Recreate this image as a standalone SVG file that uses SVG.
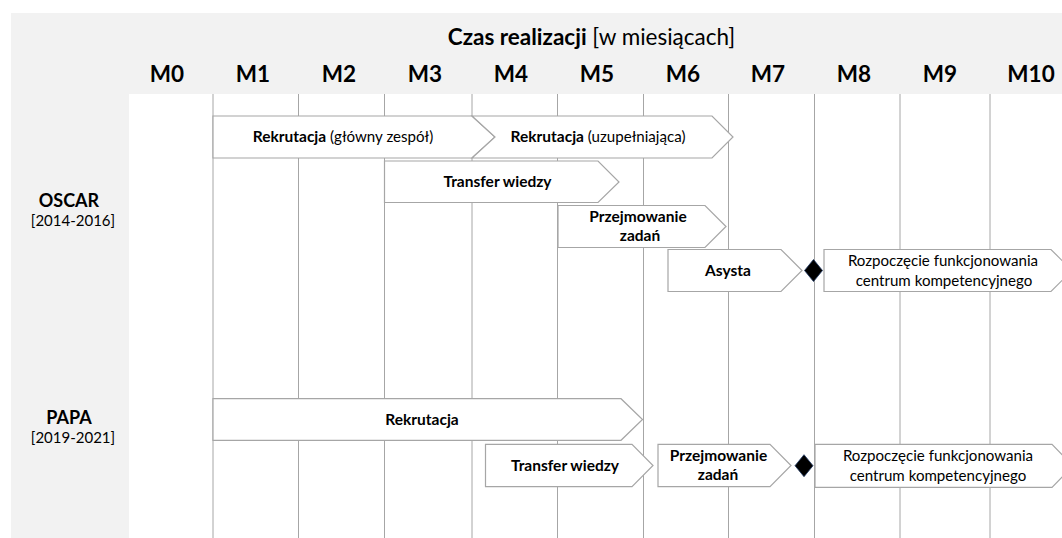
<svg xmlns="http://www.w3.org/2000/svg" width="1062" height="538" viewBox="0 0 1062 538">
<style>
text{font-family:Lato,"Liberation Sans",Arial,sans-serif;fill:#000}
.t{font-size:22.5px}
.m{font-size:22.5px;font-weight:bold;text-anchor:middle}
.p{font-size:18px;font-weight:bold;text-anchor:middle}
.y{font-size:15px;text-anchor:middle}
.b{font-size:15.1px;text-anchor:middle}
.bb{font-weight:bold;font-size:15.5px}
.grid line{stroke:#a6a6a6;stroke-width:1}
.box{fill:#fff;stroke:#a6a6a6;stroke-width:1.2}
.ms{fill:#000;stroke:#1f3864;stroke-width:0.8}
</style>
<rect width="1062" height="538" fill="#fff"/>
<path d="M11 13H1062V94H129V538H11Z" fill="#f2f2f2"/>
<g id="header">
<text class="t" x="591.5" y="45" text-anchor="middle"><tspan font-weight="bold">Czas realizacji</tspan> [w miesiącach]</text>
<text class="m" x="167" y="82">M0</text>
<text class="m" x="253" y="82">M1</text>
<text class="m" x="339" y="82">M2</text>
<text class="m" x="425" y="82">M3</text>
<text class="m" x="511" y="82">M4</text>
<text class="m" x="597" y="82">M5</text>
<text class="m" x="683" y="82">M6</text>
<text class="m" x="768" y="82">M7</text>
<text class="m" x="854" y="82">M8</text>
<text class="m" x="940" y="82">M9</text>
<text class="m" x="1031" y="82">M10</text>
</g>
<g id="labels">
<text class="p" x="69" y="207">OSCAR</text>
<text class="y" x="73" y="226">[2014-2016]</text>
<text class="p" x="69" y="424">PAPA</text>
<text class="y" x="73" y="443">[2019-2021]</text>
</g>
<g id="connectors" class="grid">
<line x1="213" y1="94" x2="213" y2="538"/>
<line x1="298.5" y1="94" x2="298.5" y2="538"/>
<line x1="384.5" y1="94" x2="384.5" y2="538"/>
<line x1="472" y1="94" x2="472" y2="538"/>
<line x1="557.5" y1="94" x2="557.5" y2="538"/>
<line x1="643.5" y1="94" x2="643.5" y2="538"/>
<line x1="728.5" y1="94" x2="728.5" y2="538"/>
<line x1="814.5" y1="94" x2="814.5" y2="538"/>
<line x1="900" y1="94" x2="900" y2="538"/>
<line x1="990" y1="94" x2="990" y2="538"/>
</g>
<g id="oscar-rek1">
<path class="box" d="M213 116H472L495 137L472 158H213Z"/>
<text class="b" x="343" y="142"><tspan class="bb">Rekrutacja</tspan> (główny zespół)</text>
</g>
<g id="oscar-rek2">
<path class="box" d="M472 116H712L733 137L712 158H472L495 137Z"/>
<text class="b" x="598" y="142"><tspan class="bb">Rekrutacja</tspan> (uzupełniająca)</text>
</g>
<g id="oscar-transfer">
<path class="box" d="M384.5 161H598L619 182L598 202.5H384.5Z"/>
<text class="b bb" x="497.5" y="187">Transfer wiedzy</text>
</g>
<g id="oscar-przejm">
<path class="box" d="M558 205.5H705L726 226.5L705 247.5H558Z"/>
<text class="b bb" x="638" y="222">Przejmowanie</text>
<text class="b bb" x="640" y="241">zadań</text>
</g>
<g id="oscar-asysta">
<path class="box" d="M668 249.5H781L802 270.5L781 291.5H668Z"/>
<text class="b bb" x="728" y="276">Asysta</text>
</g>
<g id="oscar-milestone">
<path class="ms" d="M813.5 259.5L822.5 270.5L813.5 281.5L804.5 270.5Z"/>
</g>
<g id="oscar-start">
<path class="box" d="M824 249.5H1051L1072 270.5L1051 291.5H824Z"/>
<text class="b" x="943" y="265.5">Rozpoczęcie funkcjonowania</text>
<text class="b" x="944" y="285.5">centrum kompetencyjnego</text>
</g>
<g id="papa-rek">
<path class="box" d="M213 398.7H621L642.5 419.5L621 440.3H213Z"/>
<text class="b bb" x="422" y="425">Rekrutacja</text>
</g>
<g id="papa-transfer">
<path class="box" d="M485.5 444.3H632L653 465.5L632 486.7H485.5Z"/>
<text class="b bb" x="565" y="471">Transfer wiedzy</text>
</g>
<g id="papa-przejm">
<path class="box" d="M658 444.3H770L791 465.5L770 486.7H658Z"/>
<text class="b bb" x="718.5" y="460.8">Przejmowanie</text>
<text class="b bb" x="718" y="480">zadań</text>
</g>
<g id="papa-milestone">
<path class="ms" d="M804 454.7L813 465.7L804 476.7L795 465.7Z"/>
</g>
<g id="papa-start">
<path class="box" d="M815 444.3H1052L1073 465.8L1052 487.3H815Z"/>
<text class="b" x="938" y="460.5">Rozpoczęcie funkcjonowania</text>
<text class="b" x="938" y="480.5">centrum kompetencyjnego</text>
</g>
</svg>
